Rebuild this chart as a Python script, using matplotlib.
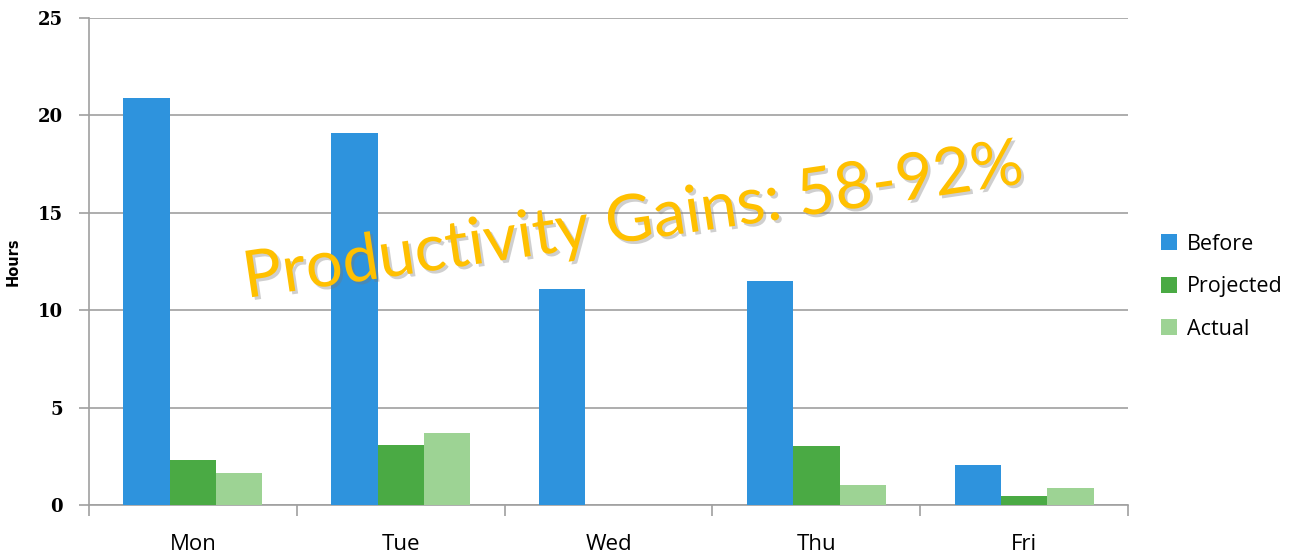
import numpy as np
import matplotlib
matplotlib.use('Agg')
import matplotlib.pyplot as plt
import matplotlib.patheffects as pe

days = ['Mon', 'Tue', 'Wed', 'Thu', 'Fri']
before = [20.9, 19.1, 11.1, 11.5, 2.05]
projected = [2.3, 3.1, 0, 3.05, 0.48]
actual = [1.65, 3.7, 0, 1.0, 0.86]
series = ['Before', 'Projected', 'Actual']
colors = ['#2E93DD', '#4AAA44', '#9DD394']

fig = plt.figure(figsize=(12.96, 5.57), dpi=100)
ax = fig.add_axes([0.0687, 0.0934, 0.8017, 0.8743])

x = np.arange(len(days))
w = 0.223
for k, (vals, name) in enumerate(zip([before, projected, actual], series)):
    ax.bar(x + (k - 1) * w, vals, w, color=colors[k], label=name, zorder=3)

ax.set_xlim(-0.5, len(days) - 0.5)
ax.set_ylim(0, 25)
ax.set_yticks([0, 5, 10, 15, 20, 25])
ax.yaxis.grid(True, color='#a0a0a0', lw=1.2, zorder=0)
for s in ['top', 'right']:
    ax.spines[s].set_visible(False)
ax.spines['left'].set_color('#a0a0a0')
ax.spines['bottom'].set_color('#a0a0a0')
ax.spines['left'].set_linewidth(1.2)
ax.spines['bottom'].set_linewidth(1.2)

# category boundaries as major ticks, labels on minor ticks
ax.set_xticks(np.arange(len(days) + 1) - 0.5)
ax.set_xticklabels([])
ax.set_xticks(x, minor=True)
ax.set_xticklabels(days, minor=True, fontsize=16, family='Open Sans')
ax.tick_params(axis='x', which='major', length=8, color='#a0a0a0', width=1.2)
ax.tick_params(axis='x', which='minor', length=0, pad=21)
ax.tick_params(axis='y', length=7, color='#a0a0a0', width=1.2, pad=12,
               labelsize=13)
for t in ax.get_yticklabels():
    t.set_fontweight('bold')
    t.set_family('DejaVu Serif')

ax.set_ylabel('Hours', fontsize=10.5, fontweight='bold')
ax.yaxis.set_label_coords(-0.066, 0.5)

leg = ax.legend(loc='center left', bbox_to_anchor=(1.013, 0.448), frameon=False,
                handlelength=0.75, handleheight=0.75,
                handletextpad=0.45, labelspacing=1.0,
                prop={'family': 'Open Sans', 'size': 15.5})

fig.text(0.19, 0.465, 'Productivity Gains: 58-92%', rotation=8.4,
         rotation_mode='anchor', fontsize=47, color='#FFC000',
         family='Lato', ha='left', va='baseline',
         path_effects=[pe.withSimplePatchShadow(offset=(2, -2),
                                                shadow_rgbFace='#777777',
                                                alpha=0.35)])

plt.savefig('out.png', dpi=100)
plt.close()
